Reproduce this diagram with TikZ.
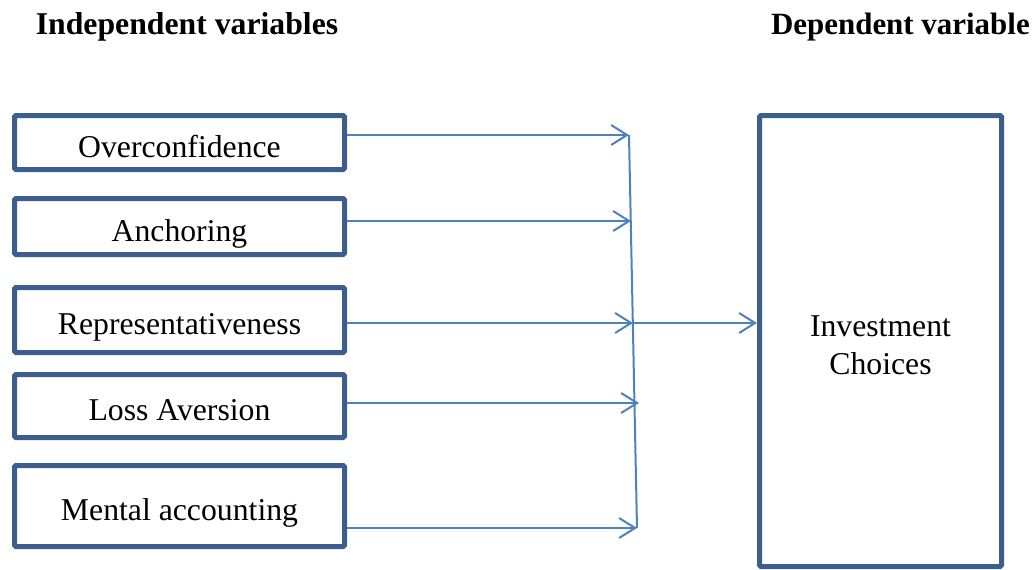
\documentclass[tikz,border=0pt]{standalone}
\usepackage{fontspec}
\setmainfont{Liberation Serif}
\usetikzlibrary{arrows.meta}
\newlength{\px}
\setlength{\px}{0.75pt}
\newcommand*{\boxW}{330}
\newcommand*{\boxX}{179.5}
\definecolor{boxblue}{HTML}{3B5E8C}
\definecolor{lineblue}{HTML}{4F81BD}

\begin{document}
\begin{tikzpicture}[x=\px, y=-\px,
    every node/.style={font=\fontsize{23.8}{27.8}\selectfont},
    varbox/.style={draw=boxblue, line width=5*\px, rounded corners=1.5*\px,
        minimum width=\boxW*\px, inner sep=0pt, align=center},
    link/.style={draw=lineblue, line width=2*\px,
        -{Straight Barb[length=12pt, width=15pt]}}]
    \useasboundingbox (0,0) rectangle (1033,569);

    \node (indep) at (187,27) {\bfseries Independent variables};
    \node [anchor=east, inner sep=0pt, font=\fontsize{23.2}{27.8}\selectfont\bfseries] (dep) at (1030,27) {Dependent variable};

    \foreach \name/\y/\h/\txt in {over/142.5/54/Overconfidence, anch/226.5/56/Anchoring,
        repr/320/65/Representativeness, loss/406/63/Loss Aversion, ment/506/81/Mental accounting} {
        \node [varbox, minimum height=\h*\px, text height=22pt, text depth=0pt] (\name) at (\boxX,\y) {\txt};
    }

    \node [varbox, minimum width=242*\px, minimum height=451*\px] (choice) at (880.5,341) {\rule{0pt}{22pt}Investment\\Choices};

    % arrow tips on the joining bar
    \coordinate (t1) at (629,135);
    \coordinate (t2) at (631,221);
    \coordinate (t3) at (633,323);
    \coordinate (t4) at (639,403);
    \coordinate (t5) at (637,528);

    \foreach \name/\t in {over/t1, anch/t2, repr/t3, loss/t4, ment/t5} {
        \draw [link] (\name.east |- \t) -- (\t);
    }

    \draw [lineblue, line width=2*\px] (t1) -- (t5);
    \draw [link] (t3) -- (t3 -| choice.west);

\end{tikzpicture}
\end{document}
